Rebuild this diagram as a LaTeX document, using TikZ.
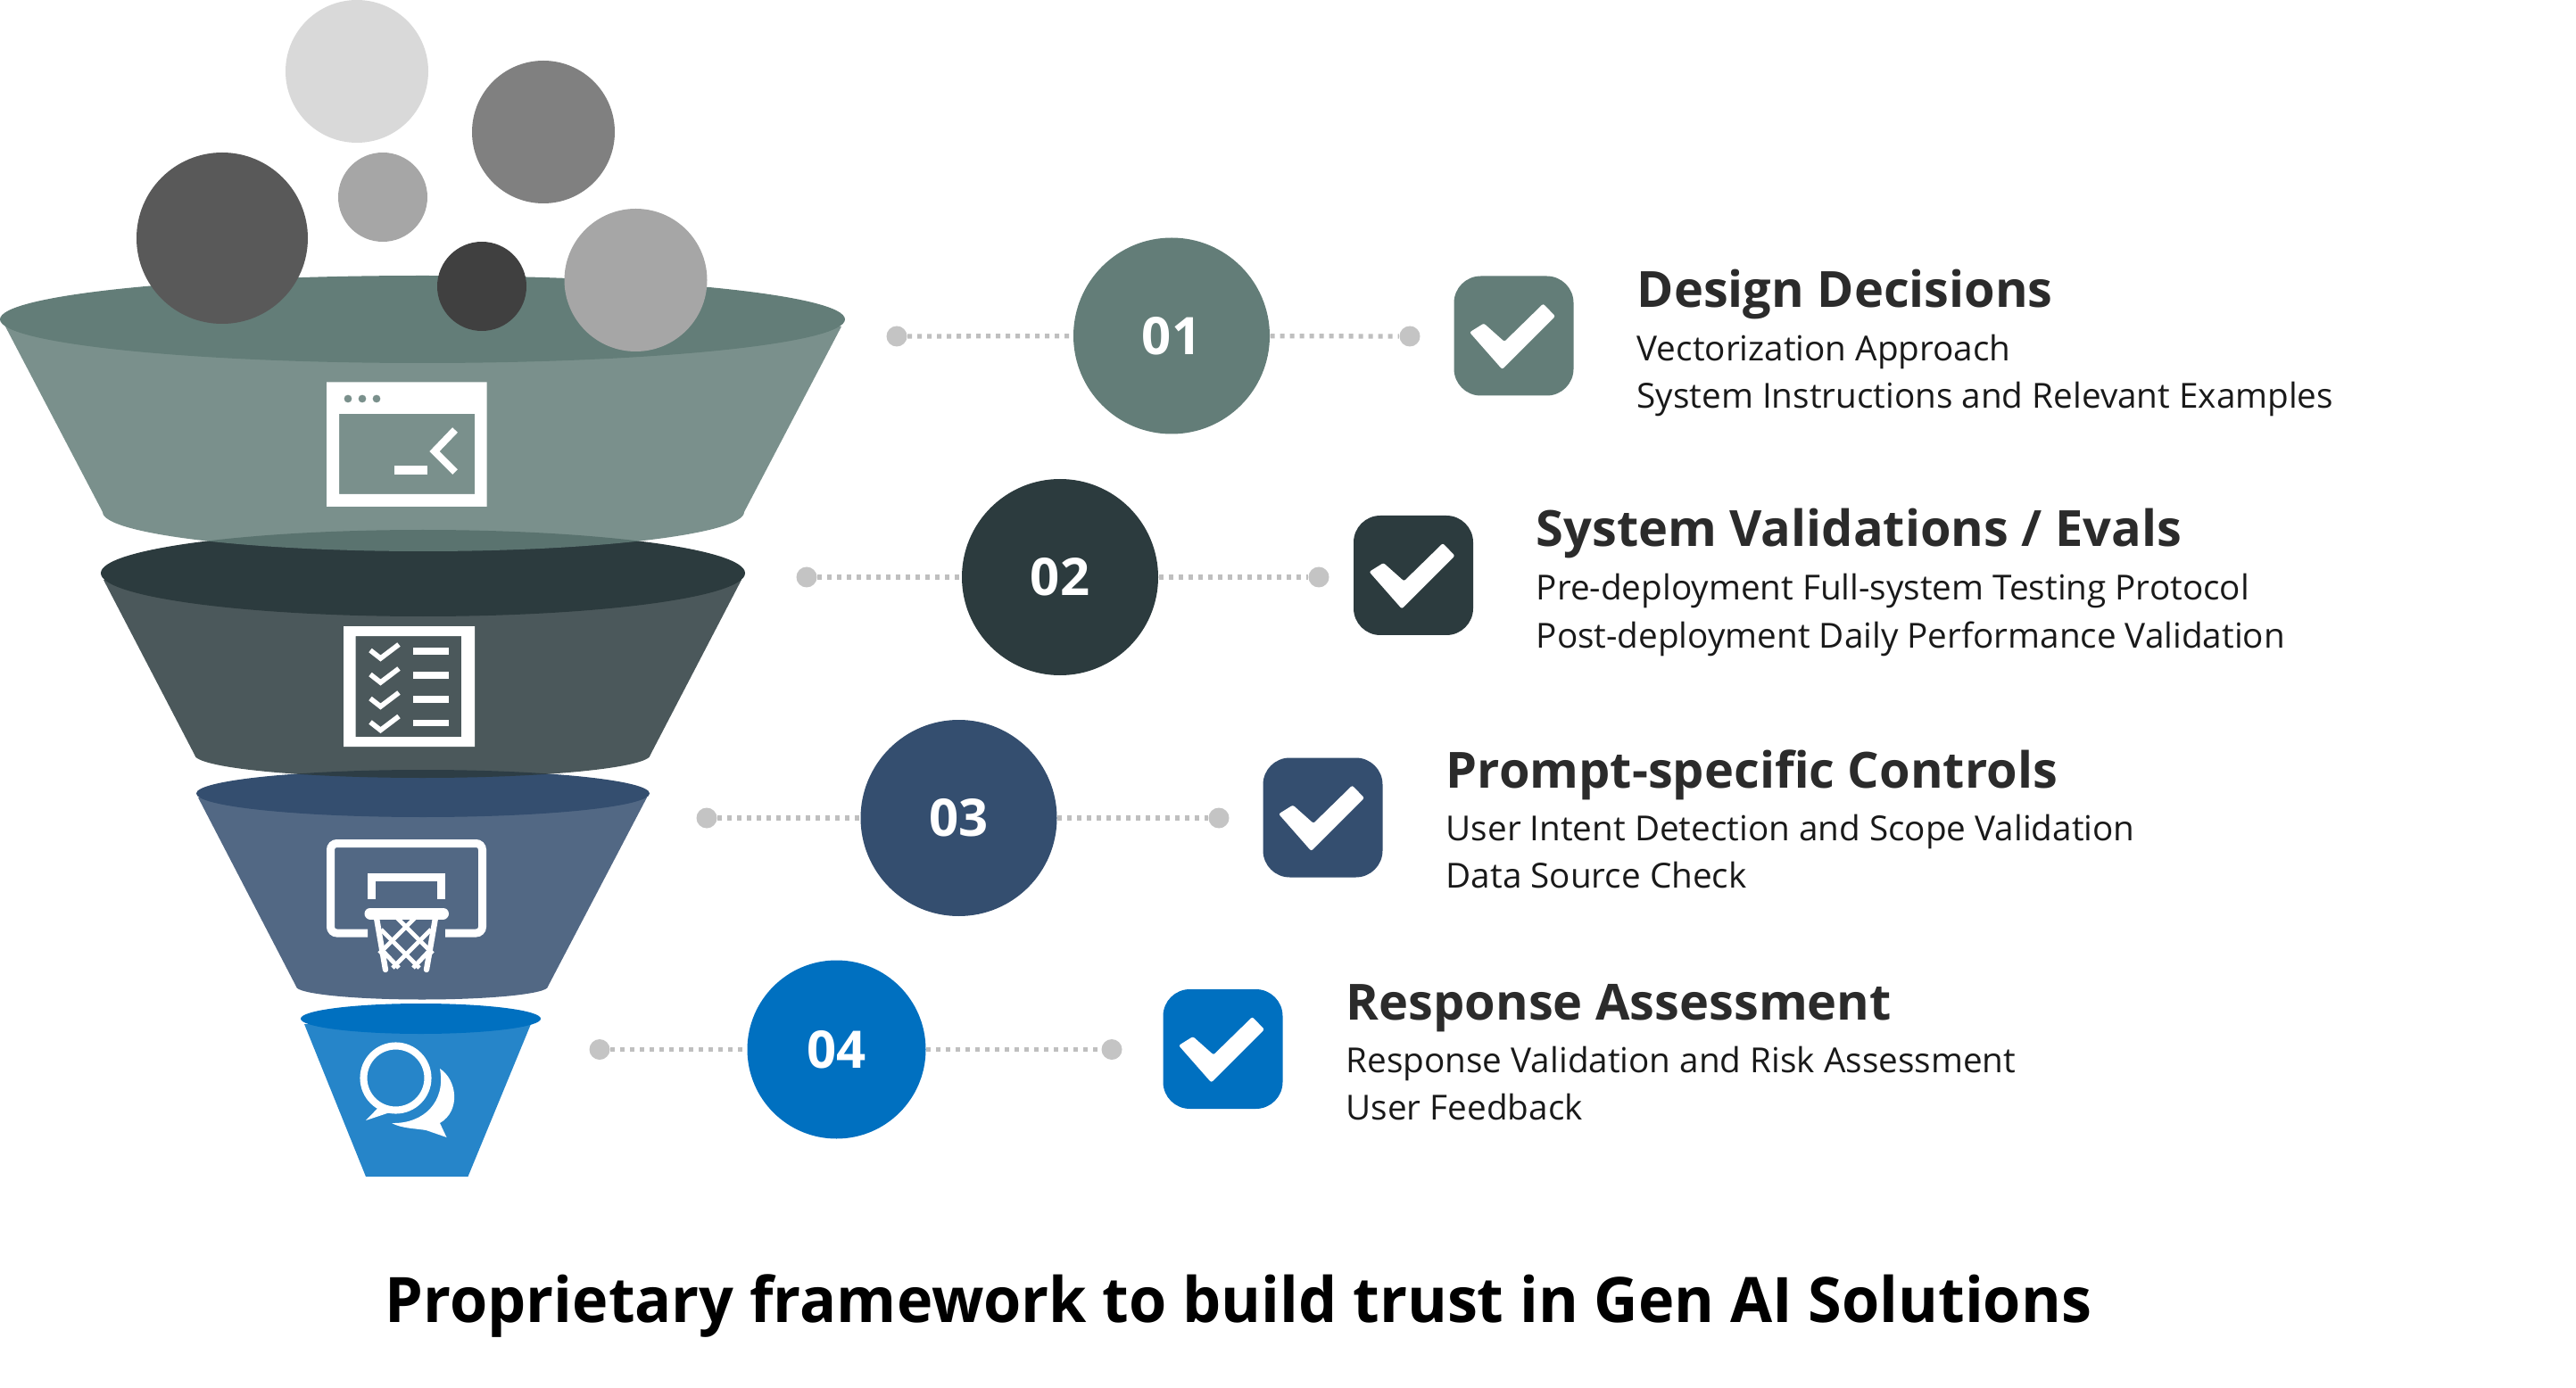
\documentclass[tikz,border=0pt]{standalone}
\usepackage{fontspec}
\setmainfont{Open Sans}
\newfontfamily\titlefont[FakeStretch=0.972]{Open Sans}
\definecolor{sage}{HTML}{637D78}
\definecolor{slate}{HTML}{2C3B3E}
\definecolor{navy}{HTML}{344E6F}
\definecolor{azure}{HTML}{0070C0}
\tikzset{
  ball/.style={circle, inner sep=0pt},
  dotend/.style={circle, fill=black!23, minimum size=.23cm, inner sep=0pt},
  link/.style={black!25, line width=1.5pt, dash pattern=on 1.42pt off 1.71pt},
  stage/.style={circle, inner sep=0pt, text=white, font=\bfseries\fontsize{16.5}{18}\selectfont},
  tickbox/.style={rounded corners=.3cm, minimum width=1.34cm, minimum height=1.34cm, inner sep=0pt},
  tick/.pic={\fill[white, rounded corners=.6pt] (-0.495,0.04) -- (-0.335,0.14) -- (-0.105,-0.065) -- (0.33,0.36) -- (0.465,0.22) -- (-0.13,-0.375) -- cycle;},
  head/.style={anchor=base west, inner sep=0pt, text=black!83, font=\bfseries\fontsize{15.9}{18}\selectfont},
  sub/.style={anchor=base west, inner sep=0pt, text=black!90, font=\fontsize{11}{13}\selectfont},
}
\begin{document}
\begin{tikzpicture}
\useasboundingbox (0,0) rectangle (28.87,15.55);
% funnel, lowest stage first
\fill[azure, fill opacity=.85] (3.41,4.07) -- (4.10,2.36) -- (5.245,2.36) -- (5.95,4.07) -- cycle;
\fill[azure] (4.715,4.13) ellipse [x radius=1.345, y radius=.17];
\fill[navy, fill opacity=.85] (2.22,6.61) -- (3.32,4.49) arc[start angle=180, end angle=360, x radius=1.41, y radius=.145] -- (7.25,6.61) -- cycle;
\fill[navy] (4.74,6.655) ellipse [x radius=2.54, y radius=.265];
\fill[slate, fill opacity=.85] (1.16,9.05) -- (2.18,7.09) arc[start angle=180, end angle=360, x radius=2.555, y radius=.26] -- (8.31,9.05) -- cycle;
\fill[slate] (4.74,9.125) ellipse [x radius=3.61, y radius=.485];
\fill[sage, fill opacity=.85] (0.06,11.89) -- (1.15,9.81) arc[start angle=180, end angle=360, x radius=3.595, y radius=.44] -- (9.43,11.89) -- cycle;
\fill[sage] (4.735,11.97) ellipse [x radius=4.735, y radius=.49];
% balls
\node[ball, fill=black!15, minimum size=1.6cm](b1) at (4.00,14.75){};
\node[ball, fill=black!50, minimum size=1.6cm](b2) at (6.09,14.07){};
\node[ball, fill=black!65, minimum size=1.92cm](b3) at (2.49,12.88){};
\node[ball, fill=black!35, minimum size=1cm](b4) at (4.29,13.34){};
\node[ball, fill=black!75, minimum size=1cm](b5) at (5.40,12.34){};
\node[ball, fill=black!35, minimum size=1.6cm](b6) at (7.125,12.41){};
% terminal icon
\fill[white, even odd rule] (3.66,11.265) rectangle (5.455,9.87) (3.80,10.91) rectangle (5.32,10.01)
  (3.90,11.08) circle (.045) (4.06,11.08) circle (.045) (4.22,11.08) circle (.045);
\fill[white] (4.42,10.33) rectangle (4.785,10.23);
\draw[white, line width=2.3pt] (5.10,10.73) -- (4.87,10.49) -- (5.10,10.26);
% checklist icon
\fill[white, even odd rule] (3.85,8.53) rectangle (5.32,7.18) (3.985,8.42) rectangle (5.17,7.29);
\draw[white, line width=1.6pt] (4.15,8.26) -- (4.265,8.17) -- (4.47,8.325);
\draw[white, line width=1.6pt] (4.15,7.99) -- (4.265,7.90) -- (4.47,8.055);
\draw[white, line width=1.6pt] (4.15,7.72) -- (4.265,7.63) -- (4.47,7.785);
\draw[white, line width=1.6pt] (4.15,7.455) -- (4.265,7.365) -- (4.47,7.52);
\draw[white, line width=2pt] (4.63,8.25) -- (5.03,8.25);
\draw[white, line width=2pt] (4.63,7.98) -- (5.03,7.98);
\draw[white, line width=2pt] (4.63,7.71) -- (5.03,7.71);
\draw[white, line width=2pt] (4.63,7.445) -- (5.03,7.445);
% hoop icon
\draw[white, line width=2.56pt, rounded corners=2pt] (4.12,5.09) -- (3.705,5.09) -- (3.705,6.095) -- (5.405,6.095) -- (5.405,5.09) -- (4.99,5.09);
\draw[white, line width=2.56pt] (4.165,5.475) -- (4.165,5.72) -- (4.945,5.72) -- (4.945,5.475);
\draw[white, line width=3.7pt, line cap=round] (4.15,5.31) -- (4.965,5.31);
\draw[white, line width=1.8pt, line cap=round] (4.22,5.26) -- (4.32,4.68);
\draw[white, line width=1.8pt, line cap=round] (4.88,5.26) -- (4.78,4.68);
\draw[white, line width=1.4pt] (4.27,5.13) -- (4.70,4.70);
\draw[white, line width=1.4pt] (4.83,5.13) -- (4.40,4.70);
\draw[white, line width=1.4pt] (4.45,5.26) -- (4.85,4.86);
\draw[white, line width=1.4pt] (4.65,5.26) -- (4.25,4.86);
\draw[white, line width=1.4pt] (4.28,4.90) -- (4.47,4.70);
\draw[white, line width=1.4pt] (4.82,4.90) -- (4.63,4.70);
% chat icon
\draw[white, line width=2.3pt] (4.435,3.465) circle (.36);
\fill[white] (4.27,3.165) -- (4.10,2.99) -- (4.37,3.08) -- cycle;
\fill[white] (4.93,3.57) .. controls (5.12,3.45) and (5.17,3.10) .. (4.93,2.96) -- (5.005,2.80) -- (4.775,2.88) .. controls (4.65,2.90) and (4.50,2.90) .. (4.39,2.96) .. controls (4.75,2.95) and (5.0,3.20) .. (4.93,3.57);
% stages
\node[dotend](l1) at (10.05,11.78){};
\node[stage, fill=sage, minimum size=2.2cm](c1) at (13.13,11.785){01};
\node[dotend](r1) at (15.80,11.78){};
\draw[link] (l1) -- (c1);
\draw[link] (c1) -- (r1);
\node[tickbox, fill=sage](t1) at (16.965,11.785){};
\pic at (t1) {tick};
\node[head](h1) at (18.34,12.105){Design Decisions};
\node[sub](s1) at (18.34,11.505){Vectorization Approach};
\node[sub](u1) at (18.34,10.975){System Instructions and Relevant Examples};
\node[dotend](l2) at (9.04,9.08){};
\node[stage, fill=slate, minimum size=2.2cm](c2) at (11.88,9.08){02};
\node[dotend](r2) at (14.78,9.08){};
\draw[link] (l2) -- (c2);
\draw[link] (c2) -- (r2);
\node[tickbox, fill=slate](t2) at (15.84,9.10){};
\pic at (t2) {tick};
\node[head](h2) at (17.21,9.42){System Validations / Evals};
\node[sub](s2) at (17.21,8.82){Pre-deployment Full-system Testing Protocol};
\node[sub](u2) at (17.21,8.29){Post-deployment Daily Performance Validation};
\node[dotend](l3) at (7.92,6.38){};
\node[stage, fill=navy, minimum size=2.2cm](c3) at (10.745,6.38){03};
\node[dotend](r3) at (13.66,6.38){};
\draw[link] (l3) -- (c3);
\draw[link] (c3) -- (r3);
\node[tickbox, fill=navy](t3) at (14.825,6.385){};
\pic at (t3) {tick};
\node[head](h3) at (16.20,6.72){Prompt-specific Controls};
\node[sub](s3) at (16.20,6.125){User Intent Detection and Scope Validation};
\node[sub](u3) at (16.20,5.595){Data Source Check};
\node[dotend](l4) at (6.72,3.785){};
\node[stage, fill=azure, minimum size=2cm](c4) at (9.375,3.785){04};
\node[dotend](r4) at (12.46,3.785){};
\draw[link] (l4) -- (c4);
\draw[link] (c4) -- (r4);
\node[tickbox, fill=azure](t4) at (13.705,3.79){};
\pic at (t4) {tick};
\node[head](h4) at (15.08,4.12){Response Assessment};
\node[sub](s4) at (15.08,3.525){Response Validation and Risk Assessment};
\node[sub](u4) at (15.08,2.995){User Feedback};
% caption
\node[anchor=base, inner sep=0pt, font=\titlefont\bfseries\fontsize{20}{24}\selectfont](title) at (13.88,0.73){Proprietary framework to build trust in Gen AI Solutions};
\end{tikzpicture}
\end{document}
